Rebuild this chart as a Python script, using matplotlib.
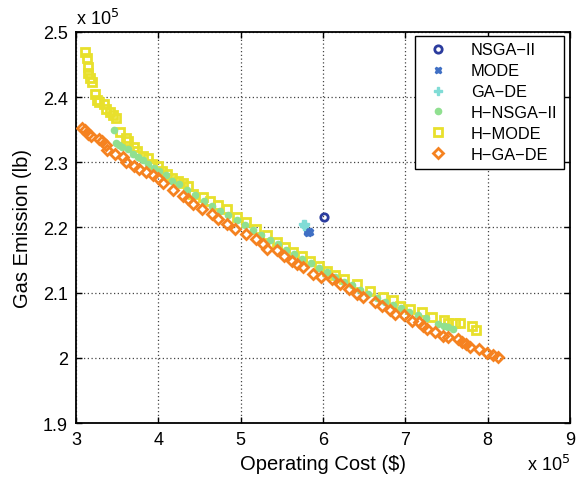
import numpy as np
import matplotlib.pyplot as plt

plt.rcParams['font.family'] = ['Liberation Sans', 'DejaVu Sans']

# operating cost (x 1e5 $) and gas emission (x 1e5 lb)
nsga_x = [6.01]
nsga_y = [2.216]

mode_x = [5.80, 5.81, 5.83, 5.82, 5.84]
mode_y = [2.195, 2.193, 2.194, 2.192, 2.193]

gade_x = [5.76, 5.78, 5.77]
gade_y = [2.206, 2.205, 2.203]

hnsga_x = [3.46, 3.48, 3.52, 3.56, 3.63, 3.69, 3.75, 3.81, 3.87, 3.95, 4.01, 4.09,
           4.17, 4.25, 4.35, 4.45, 4.55, 4.65, 4.75, 4.85, 4.95, 5.05, 5.15, 5.25,
           5.35, 5.45, 5.55, 5.65, 5.75, 5.85, 5.95, 6.05, 6.15, 6.25, 6.35, 6.45,
           6.55, 6.65, 6.75, 6.85, 6.95, 7.05, 7.15, 7.25, 7.40, 7.47, 7.52, 7.58]
hnsga_y = [2.350, 2.329, 2.327, 2.323, 2.321, 2.313, 2.308, 2.303, 2.297, 2.292, 2.286, 2.280,
           2.272, 2.267, 2.258, 2.250, 2.241, 2.233, 2.226, 2.219, 2.211, 2.204, 2.196, 2.188,
           2.181, 2.174, 2.166, 2.159, 2.152, 2.145, 2.138, 2.131, 2.124, 2.117, 2.111, 2.104,
           2.098, 2.092, 2.086, 2.081, 2.076, 2.071, 2.066, 2.061, 2.052, 2.049, 2.047, 2.044]

hmode_x = [3.11, 3.13, 3.14, 3.15, 3.17, 3.19, 3.23, 3.25, 3.28, 3.34, 3.36, 3.41,
           3.45, 3.48, 3.54, 3.61, 3.63, 3.70, 3.74, 3.81, 3.87, 3.92, 3.99, 4.05,
           4.11, 4.17, 4.24, 4.30, 4.36, 4.42, 4.54, 4.63, 4.73, 4.83, 4.95, 5.07,
           5.19, 5.32, 5.44, 5.54, 5.64, 5.74, 5.84, 5.95, 6.05, 6.15, 6.25, 6.41,
           6.57, 6.73, 6.85, 6.94, 7.06, 7.20, 7.32, 7.47, 7.52, 7.60, 7.66, 7.81, 7.86]
hmode_y = [2.470, 2.460, 2.446, 2.437, 2.429, 2.424, 2.405, 2.396, 2.392, 2.389, 2.382, 2.377,
           2.372, 2.368, 2.347, 2.338, 2.333, 2.323, 2.318, 2.309, 2.306, 2.297, 2.295, 2.287,
           2.282, 2.276, 2.272, 2.268, 2.264, 2.252, 2.247, 2.240, 2.234, 2.228, 2.216, 2.208,
           2.198, 2.188, 2.177, 2.170, 2.163, 2.156, 2.149, 2.141, 2.134, 2.127, 2.121, 2.113,
           2.103, 2.094, 2.088, 2.080, 2.075, 2.070, 2.062, 2.058, 2.053, 2.053, 2.053, 2.049, 2.043]

hgade_x = [3.07, 3.11, 3.15, 3.18, 3.28, 3.32, 3.36, 3.38, 3.47, 3.57, 3.61, 3.71,
           3.77, 3.85, 3.93, 3.99, 4.06, 4.18, 4.30, 4.36, 4.42, 4.53, 4.65, 4.73,
           4.83, 4.93, 5.07, 5.19, 5.27, 5.32, 5.44, 5.52, 5.62, 5.68, 5.76, 5.88,
           5.98, 6.11, 6.21, 6.31, 6.41, 6.49, 6.63, 6.71, 6.81, 6.87, 6.98, 7.08,
           7.16, 7.22, 7.26, 7.36, 7.46, 7.52, 7.64, 7.69, 7.74, 7.78, 7.89, 7.99, 8.07, 8.13]
hgade_y = [2.352, 2.349, 2.344, 2.340, 2.336, 2.332, 2.326, 2.319, 2.313, 2.308, 2.301, 2.295,
           2.289, 2.285, 2.280, 2.276, 2.269, 2.257, 2.249, 2.244, 2.236, 2.229, 2.221, 2.213,
           2.206, 2.198, 2.190, 2.183, 2.175, 2.167, 2.165, 2.157, 2.149, 2.144, 2.139, 2.129,
           2.124, 2.121, 2.113, 2.106, 2.098, 2.093, 2.085, 2.080, 2.073, 2.068, 2.065, 2.057,
           2.055, 2.049, 2.044, 2.039, 2.034, 2.032, 2.029, 2.025, 2.021, 2.016, 2.013, 2.008, 2.004, 2.001]

fig = plt.figure(figsize=(5.77, 4.81), dpi=100)
ax = fig.add_axes([0.1317, 0.1185, 0.8563, 0.8129])

ax.plot(hnsga_x, hnsga_y, 'o', color='#90e090', ms=4.5, mec='#90e090', label='H\u2212NSGA\u2212II', zorder=3)
ax.plot(hmode_x, hmode_y, 's', color='#e8e02c', ms=5.3, mfc='none', mew=2.0, label='H\u2212MODE', zorder=2)
ax.plot(hgade_x, hgade_y, 'D', color='#f58220', ms=5.3, mfc='none', mew=2.0, label='H\u2212GA\u2212DE', zorder=4)
ax.plot(nsga_x, nsga_y, 'o', color='#2b3c9e', ms=5.3, mfc='none', mew=2.0, label='NSGA\u2212II', zorder=5)
ax.plot(mode_x, mode_y, 'X', color='#3f6fc4', ms=5, label='MODE', zorder=5)
ax.plot(gade_x, gade_y, 'P', color='#80dcd6', ms=6, label='GA\u2212DE', zorder=5)

ax.set_xlim(3, 9)
ax.set_ylim(1.9, 2.5)
ax.set_xticks(np.arange(3, 9.5, 1))
ax.set_yticks(np.arange(1.9, 2.55, 0.1))
ax.set_xticklabels(['3', '4', '5', '6', '7', '8', '9'])
ax.set_yticklabels(['1.9', '2', '2.1', '2.2', '2.3', '2.4', '2.5'])
ax.grid(True, linestyle=(0, (1, 2)), color='#444444', linewidth=0.9)
ax.tick_params(direction='in', top=True, right=True, labelsize=13, length=4, width=1, pad=6)
for s in ax.spines.values():
    s.set_linewidth(1.3)

ax.set_xlabel('Operating Cost ($)', fontsize=14.5, labelpad=4)
ax.set_ylabel('Gas Emission (lb)', fontsize=14.5, labelpad=8)
ax.text(0.0, 1.01, r'x 10$^5$', transform=ax.transAxes, fontsize=13, ha='left', va='bottom')
ax.text(1.0, -0.078, r'x 10$^5$', transform=ax.transAxes, fontsize=13, ha='right', va='top')

h, l = ax.get_legend_handles_labels()
order = [3, 4, 5, 0, 1, 2]
leg = ax.legend([h[i] for i in order], [l[i] for i in order], loc='upper right',
                fontsize=11.8, fancybox=False, edgecolor='black', framealpha=1,
                handlelength=2.0, handletextpad=1.0, borderpad=0.4, labelspacing=0.36,
                borderaxespad=0, bbox_to_anchor=(0.988, 0.99))
leg.get_frame().set_linewidth(1.0)

fig.savefig('out.png', dpi=100)
